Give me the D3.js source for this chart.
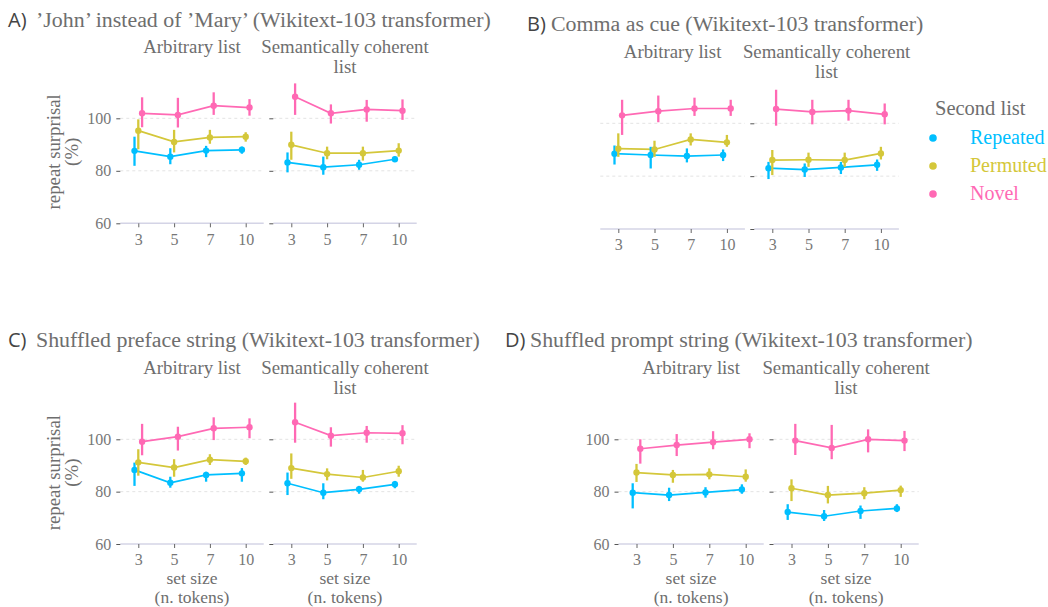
<!DOCTYPE html>
<html>
<head>
<meta charset="utf-8">
<script src="https://cdn.jsdelivr.net/npm/d3@7"></script>
<style>
body { margin: 0; background: #fff; }
text { font-family: "Liberation Serif", serif; }
</style>
</head>
<body>
<svg id="chart" width="1048" height="607"></svg>
<script>
var sizes = ["3", "5", "7", "10"];
var facets = ["Arbitrary list", "Semantically coherent list"];
var series = ["Repeated", "Permuted", "Novel"];
var colors = ["#00bfff", "#d4c73a", "#ff69b4"];
var yTicks = [60, 80, 100];

// [mean, low, high] per set size; first 4 = arbitrary list, last 4 = semantically coherent list
var aRepeated = [[87.6, 81.9, 93.0], [85.4, 82.5, 88.6], [87.7, 85.2, 89.5], [88.0, 86.5, 89.2],
                 [83.2, 79.4, 87.0], [81.4, 78.5, 85.4], [82.3, 80.4, 84.2], [84.4, 83.4, 85.4]];
var aPermuted = [[95.3, 88.2, 99.6], [91.0, 87.0, 95.6], [92.7, 90.3, 95.6], [93.0, 91.1, 94.7],
                 [89.9, 84.2, 94.9], [86.7, 84.4, 89.2], [86.7, 83.9, 89.2], [87.7, 85.4, 90.5]];
var aNovel    = [[101.9, 96.6, 108.0], [101.3, 96.5, 107.8], [104.8, 101.3, 109.9], [104.1, 101.0, 107.3],
                 [108.2, 101.3, 113.3], [101.9, 98.0, 105.3], [103.4, 98.7, 107.0], [102.9, 99.4, 107.2]];

var bRepeated = [[88.5, 84.4, 91.6], [88.0, 82.9, 91.1], [87.6, 85.2, 90.5], [88.0, 85.7, 90.1],
                 [83.0, 78.9, 85.4], [82.5, 79.7, 84.8], [83.3, 80.8, 85.4], [84.3, 82.0, 86.3]];
var bPermuted = [[90.4, 87.3, 96.2], [90.1, 87.3, 93.4], [93.9, 91.6, 96.2], [92.8, 91.1, 95.6],
                 [86.1, 80.4, 89.9], [86.2, 83.5, 88.9], [86.1, 83.5, 88.9], [88.6, 86.3, 91.1]];
var bNovel    = [[103.0, 95.6, 108.9], [104.6, 100.4, 110.5], [105.6, 102.8, 109.7], [105.6, 102.8, 108.9],
                 [105.4, 99.1, 112.7], [104.3, 99.6, 108.9], [104.8, 101.0, 108.9], [103.4, 99.6, 107.5]];

var cRepeated = [[88.3, 82.2, 91.1], [83.4, 81.5, 85.7], [86.4, 83.8, 87.6], [87.0, 83.8, 89.0],
                 [83.2, 78.7, 87.3], [79.6, 77.1, 83.2], [80.9, 79.2, 82.2], [82.8, 81.3, 84.1]];
var cPermuted = [[91.2, 86.1, 96.2], [89.2, 85.7, 92.4], [92.2, 90.2, 94.3], [91.6, 90.2, 93.0],
                 [89.0, 84.9, 94.6], [86.7, 84.3, 88.9], [85.4, 83.8, 88.3], [87.8, 85.7, 89.9]];
var cNovel    = [[99.1, 93.9, 105.9], [101.0, 95.7, 104.8], [104.2, 99.7, 108.4], [104.6, 100.4, 108.0],
                 [106.5, 98.7, 114.0], [101.4, 97.2, 104.6], [102.5, 98.7, 105.1], [102.3, 98.1, 105.4]];

var dRepeated = [[79.6, 73.6, 83.2], [78.7, 76.4, 81.5], [79.7, 77.7, 81.7], [80.8, 79.2, 82.8],
                 [72.2, 69.2, 75.2], [70.6, 68.8, 73.0], [72.6, 69.6, 74.7], [73.6, 72.2, 75.2]];
var dPermuted = [[87.3, 83.7, 90.6], [86.4, 83.4, 88.3], [86.6, 84.7, 88.9], [85.7, 83.8, 88.5],
                 [81.3, 76.4, 84.7], [78.7, 75.5, 82.2], [79.4, 77.1, 81.7], [80.6, 78.0, 82.3]];
var dNovel    = [[96.4, 90.7, 100.0], [97.8, 93.6, 102.0], [98.9, 96.2, 103.1], [100.0, 96.6, 102.3],
                 [99.5, 94.0, 105.9], [96.7, 92.4, 105.5], [100.0, 95.0, 103.8], [99.5, 95.5, 103.2]];

var panels = [
  { tag: "A)", title: "\u2019John\u2019 instead of \u2019Mary\u2019 (Wikitext-103 transformer)",
    data: [aRepeated, aPermuted, aNovel], tagX: 8, titleX: 36, titleY: 27,
    x3: 138.3, step: 35.8, gap: 153, y100: 118.3, y60: 223.3, stripY: 53,
    yLabels: true, yTitle: true, leftTicks: true, xTitle: false, legend: false },
  { tag: "B)", title: "Comma as cue (Wikitext-103 transformer)",
    data: [bRepeated, bPermuted, bNovel], tagX: 527, titleX: 551, titleY: 31,
    x3: 618.3, step: 36.2, gap: 154, y100: 123.3, y60: 229, stripY: 58,
    yLabels: false, yTitle: false, leftTicks: false, xTitle: false, legend: true },
  { tag: "C)", title: "Shuffled preface string (Wikitext-103 transformer)",
    data: [cRepeated, cPermuted, cNovel], tagX: 8, titleX: 36, titleY: 347,
    x3: 138.3, step: 35.8, gap: 153, y100: 439.3, y60: 544, stripY: 374,
    yLabels: true, yTitle: true, leftTicks: true, xTitle: true, legend: false },
  { tag: "D)", title: "Shuffled prompt string (Wikitext-103 transformer)",
    data: [dRepeated, dPermuted, dNovel], tagX: 505, titleX: 530, titleY: 347,
    x3: 636.5, step: 36.4, gap: 155, y100: 439.3, y60: 544, stripY: 374,
    yLabels: true, yTitle: false, leftTicks: true, xTitle: true, legend: false }
];

var svg = d3.select("#chart");
var dodge = [-3.8, 0, 3.8];
var textCol = "#6e6e6e";

panels.forEach(function(p) {
  var g = svg.append("g");

  g.append("text").attr("x", p.tagX).attr("y", p.titleY)
    .style("font-family", "'Open Sans', sans-serif").style("font-size", "20px")
    .attr("fill", "#444").text(p.tag);
  g.append("text").attr("x", p.titleX).attr("y", p.titleY)
    .style("font-size", "21.9px").attr("fill", textCol).text(p.title);

  var y = d3.scaleLinear().domain([60, 100]).range([p.y60, p.y100]);

  facets.forEach(function(f, fi) {
    var left = p.x3 + fi * p.gap;
    var x = d3.scalePoint().domain(sizes).range([left, left + 3 * p.step]);
    var x0 = left - 18, x1 = left + 3 * p.step + 18;
    var fg = g.append("g");

    // strip label
    var strip = fg.append("text").attr("x", (x0 + x1) / 2).attr("y", p.stripY)
      .attr("text-anchor", "middle").style("font-size", "18.8px").attr("fill", textCol);
    if (fi == 0) {
      strip.text(f);
    } else {
      strip.append("tspan").attr("x", (x0 + x1) / 2).text("Semantically coherent");
      strip.append("tspan").attr("x", (x0 + x1) / 2).attr("dy", 19.5).text("list");
    }

    // grid
    fg.selectAll(".grid").data([80, 100]).enter().append("line")
      .attr("x1", x0).attr("x2", x1)
      .attr("y1", function(d) { return y(d); }).attr("y2", function(d) { return y(d); })
      .attr("stroke", "#e3e3e3").attr("stroke-dasharray", "3,3");

    // x axis
    fg.append("line").attr("x1", x0).attr("x2", x1).attr("y1", y(60)).attr("y2", y(60))
      .attr("stroke", "#d4d4e6").attr("stroke-width", 1.6);
    var xa = fg.append("g").attr("transform", "translate(0," + y(60) + ")")
      .call(d3.axisBottom(x).tickSize(4).tickPadding(6));
    xa.select(".domain").remove();
    xa.selectAll("line").attr("stroke", "#666");
    xa.selectAll("text").style("font-size", "16px").attr("fill", "#777")
      .style("font-family", "'Liberation Serif', serif");

    // y axis
    if (fi == 1 || p.leftTicks) {
      var ya = fg.append("g").attr("transform", "translate(" + x0 + ",0)")
        .call(d3.axisLeft(y).tickValues(yTicks).tickSize(4).tickPadding(5));
      ya.select(".domain").remove();
      ya.selectAll("line").attr("stroke", "#555");
      ya.selectAll("text").style("font-size", "16px").attr("fill", "#777")
        .style("font-family", "'Liberation Serif', serif");
      if (!(fi == 0 && p.yLabels)) ya.selectAll("text").remove();
    }

    if (p.xTitle) {
      fg.append("text").attr("x", (x0 + x1) / 2).attr("y", y(60) + 39.5)
        .attr("text-anchor", "middle").style("font-size", "17.5px").attr("fill", textCol).text("set size");
      fg.append("text").attr("x", (x0 + x1) / 2).attr("y", y(60) + 59)
        .attr("text-anchor", "middle").style("font-size", "17.5px").attr("fill", textCol).text("(n. tokens)");
    }

    // lines
    series.forEach(function(s, si) {
      var vals = p.data[si].slice(fi * 4, fi * 4 + 4);
      var line = d3.line()
        .x(function(d, i) { return x(sizes[i]) + dodge[si]; })
        .y(function(d) { return y(d[0]); });
      fg.append("path").datum(vals).attr("d", line)
        .attr("fill", "none").attr("stroke", colors[si]).attr("stroke-width", 1.7);
    });

    // point ranges
    series.forEach(function(s, si) {
      var vals = p.data[si].slice(fi * 4, fi * 4 + 4);
      var pr = fg.selectAll(".pr" + si).data(vals).enter().append("g");
      pr.append("line")
        .attr("x1", function(d, i) { return x(sizes[i]) + dodge[si]; })
        .attr("x2", function(d, i) { return x(sizes[i]) + dodge[si]; })
        .attr("y1", function(d) { return y(d[1]); })
        .attr("y2", function(d) { return y(d[2]); })
        .attr("stroke", colors[si]).attr("stroke-width", 2.3);
      pr.append("circle")
        .attr("cx", function(d, i) { return x(sizes[i]) + dodge[si]; })
        .attr("cy", function(d) { return y(d[0]); })
        .attr("r", 3.2).attr("fill", colors[si]);
    });
  });

  if (p.yTitle) {
    var cy = (y(60) + y(100)) / 2 - 19;
    var yt = g.append("text").attr("transform", "translate(60," + cy + ") rotate(-90)")
      .attr("text-anchor", "middle").style("font-size", "18.8px").attr("fill", textCol);
    yt.append("tspan").attr("x", 0).text("repeat surprisal");
    yt.append("tspan").attr("x", 0).attr("dy", 18).text("(%)");
  }

  if (p.legend) {
    var lg = svg.append("g");
    lg.append("text").attr("x", 935).attr("y", 115).style("font-size", "20.5px")
      .attr("fill", textCol).text("Second list");
    series.forEach(function(s, si) {
      var ly = 138 + si * 28;
      lg.append("circle").attr("cx", 933).attr("cy", ly).attr("r", 3.8).attr("fill", colors[si]);
      lg.append("text").attr("x", 970).attr("y", ly + 6).style("font-size", "20px")
        .attr("fill", colors[si]).text(s);
    });
  }
});
</script>
</body>
</html>
